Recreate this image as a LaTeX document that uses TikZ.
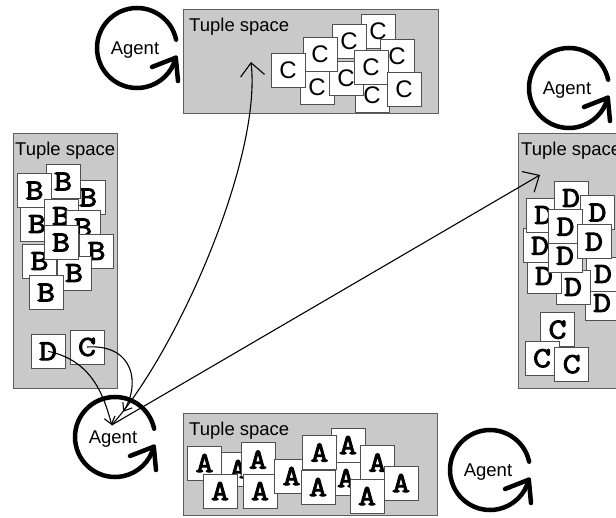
\documentclass[tikz,border=0pt]{standalone}
\usepackage{fontspec}
\setmainfont{Liberation Sans}
\newfontfamily\courfont{Latin Modern Mono}[FakeBold=3.2,FakeStretch=1.2]
\usetikzlibrary{arrows.meta,calc}
\definecolor{tsfill}{RGB}{201,201,201}
\definecolor{tsdraw}{RGB}{95,95,95}
\definecolor{carddraw}{RGB}{80,80,80}
\tikzset{
  tspace/.style={draw=tsdraw, fill=tsfill, line width=1pt, anchor=north west, inner sep=0pt},
  tslabel/.style={anchor=north west, inner sep=0pt, font=\fontsize{18.5}{20}\selectfont},
  card/.style={draw=carddraw, fill=white, line width=0.9pt, minimum width=34pt, minimum height=34pt, inner sep=0pt},
  mcard/.style={card, font=\courfont\fontsize{29}{29}\selectfont},
  scard/.style={card, font=\fontsize{24}{24}\selectfont},
  agentarc/.style={line width=4.5pt, line cap=round, line join=round},
  agentlabel/.style={font=\fontsize{18.5}{20}\selectfont, inner sep=0pt},
  link/.style={line width=1.1pt, -{Straight Barb[length=13pt,width=24pt]}},
  readlink/.style={line width=1.1pt, -{Straight Barb[length=7pt,width=11pt]}},
}
\newcommand{\drawagent}[2]{%
  \coordinate (#1c) at #2;
  \node[agentlabel] (#1) at ($(#1c)+(-2,2)$) {Agent};
  \draw[agentarc] ($(#1c)+(-12:40)$) arc[start angle=-12, end angle=-346, radius=40];
  \draw[agentarc] ($(#1c)+(15,19)$) -- ($(#1c)+(38.8,9.7)$) -- ($(#1c)+(41,33)$);
}
\begin{document}
\begin{tikzpicture}[x=1pt,y=-1pt]
\useasboundingbox (0,0) rectangle (616,518);
\clip (0,0) rectangle (616,518);

% tuple spaces
\node[tspace, minimum width=255pt, minimum height=104pt] (tsTop) at (183,9) {};
\node[tspace, minimum width=254pt, minimum height=102pt] (tsBot) at (183,413) {};
\node[tspace, minimum width=104pt, minimum height=255pt] (tsLeft) at (13,133) {};
\node[tspace, minimum width=130pt, minimum height=255pt] (tsRight) at (518,133) {};

\node[tslabel] (tsTopL) at ($(tsTop.north west)+(6,8.5)$) {Tuple space};
\node[tslabel] (tsBotL) at ($(tsBot.north west)+(6,8.5)$) {Tuple space};
\node[tslabel] (tsLeftL) at ($(tsLeft.north west)+(2,8.5)$) {Tuple space};
\node[tslabel] (tsRightL) at ($(tsRight.north west)+(3,8.5)$) {Tuple space};

% top: C cards
\node[scard] (tc9) at (372,95) {C};
\node[scard] (tc2) at (317,87) {C};
\node[scard] (tc4) at (346,78) {C};
\node[scard] (tc6) at (378,31) {C};
\node[scard] (tc7) at (397,56) {C};
\node[scard] (tc5) at (349,41.5) {C};
\node[scard] (tc3) at (320,54) {C};
\node[scard] (tc1) at (288,70.5) {C};
\node[scard] (tc8) at (371,67.5) {C};
\node[scard] (tc10) at (404,89) {C};

% bottom: A cards
\node[mcard] (ba2) at (238,469) {A};
\node[mcard] (ba3) at (258,459.5) {A};
\node[mcard] (ba1) at (204.5,463) {A};
\node[mcard] (ba4) at (220,491) {A};
\node[mcard] (ba5) at (260,491) {A};
\node[mcard] (ba6) at (291.5,476) {A};
\node[mcard] (ba10) at (346,478) {A};
\node[mcard] (ba8) at (348,445) {A};
\node[mcard] (ba7) at (319.5,452.5) {A};
\node[mcard] (ba11) at (377.5,462.5) {A};
\node[mcard] (ba9) at (318,487) {A};
\node[mcard] (ba12) at (367,496) {A};
\node[mcard] (ba13) at (401,483) {A};

% left: B cards
\node[mcard] (lb3) at (88,197.5) {B};
\node[mcard] (lb2) at (63,181.5) {B};
\node[mcard] (lb1) at (34.5,190.5) {B};
\node[mcard] (lb4) at (37,224) {B};
\node[mcard] (lb5) at (61,216) {B};
\node[mcard] (lb6) at (83,227.5) {B};
\node[mcard] (lb7) at (96.5,251) {B};
\node[mcard] (lb9) at (39.5,261) {B};
\node[mcard] (lb10) at (74,273) {B};
\node[mcard] (lb11) at (46,292.5) {B};
\node[mcard] (lb8) at (61,242.5) {B};
\node[mcard] (ld) at (48,351.3) {D};
\node[mcard] (lc) at (87,347) {C};

% right: D cards
\node[mcard] (rd11) at (602,303) {D};
\node[mcard] (rd10) at (603,274) {D};
\node[mcard] (rd9) at (573,287) {D};
\node[mcard] (rd8) at (544,276) {D};
\node[mcard] (rd5) at (540,245.8) {D};
\node[mcard] (rd2) at (543.3,215) {D};
\node[mcard] (rd7) at (565,255.8) {D};
\node[mcard] (rd1) at (571,198) {D};
\node[mcard] (rd3) at (597.5,212.5) {D};
\node[mcard] (rd4) at (565.5,226.7) {D};
\node[mcard] (rd6) at (594,241.7) {D};
\node[mcard] (rc1) at (557.5,329.7) {C};
\node[mcard] (rc2) at (542,358.3) {C};
\node[mcard] (rc3) at (571.7,364.2) {C};

% agents
\drawagent{agTL}{(137,48)}
\drawagent{agR}{(569,88)}
\drawagent{agBL}{(115,437)}
\drawagent{agBR}{(490,470)}

% connectors
\coordinate (hub) at (111.7,425);
\coordinate (readC) at (123.3,411.7);
\coordinate (topT) at (251,62);
\coordinate (rightT) at (540,175);
\draw[readlink] (ld.center) .. controls (90,360) and (103,392) .. (hub);
\draw[readlink] (lc.center) .. controls (135,344) and (140,385) .. (readC);
\draw[link] (hub) .. controls (175,355) and (262,160) .. (topT);
\draw[link] (hub) -- (rightT);
\end{tikzpicture}
\end{document}
